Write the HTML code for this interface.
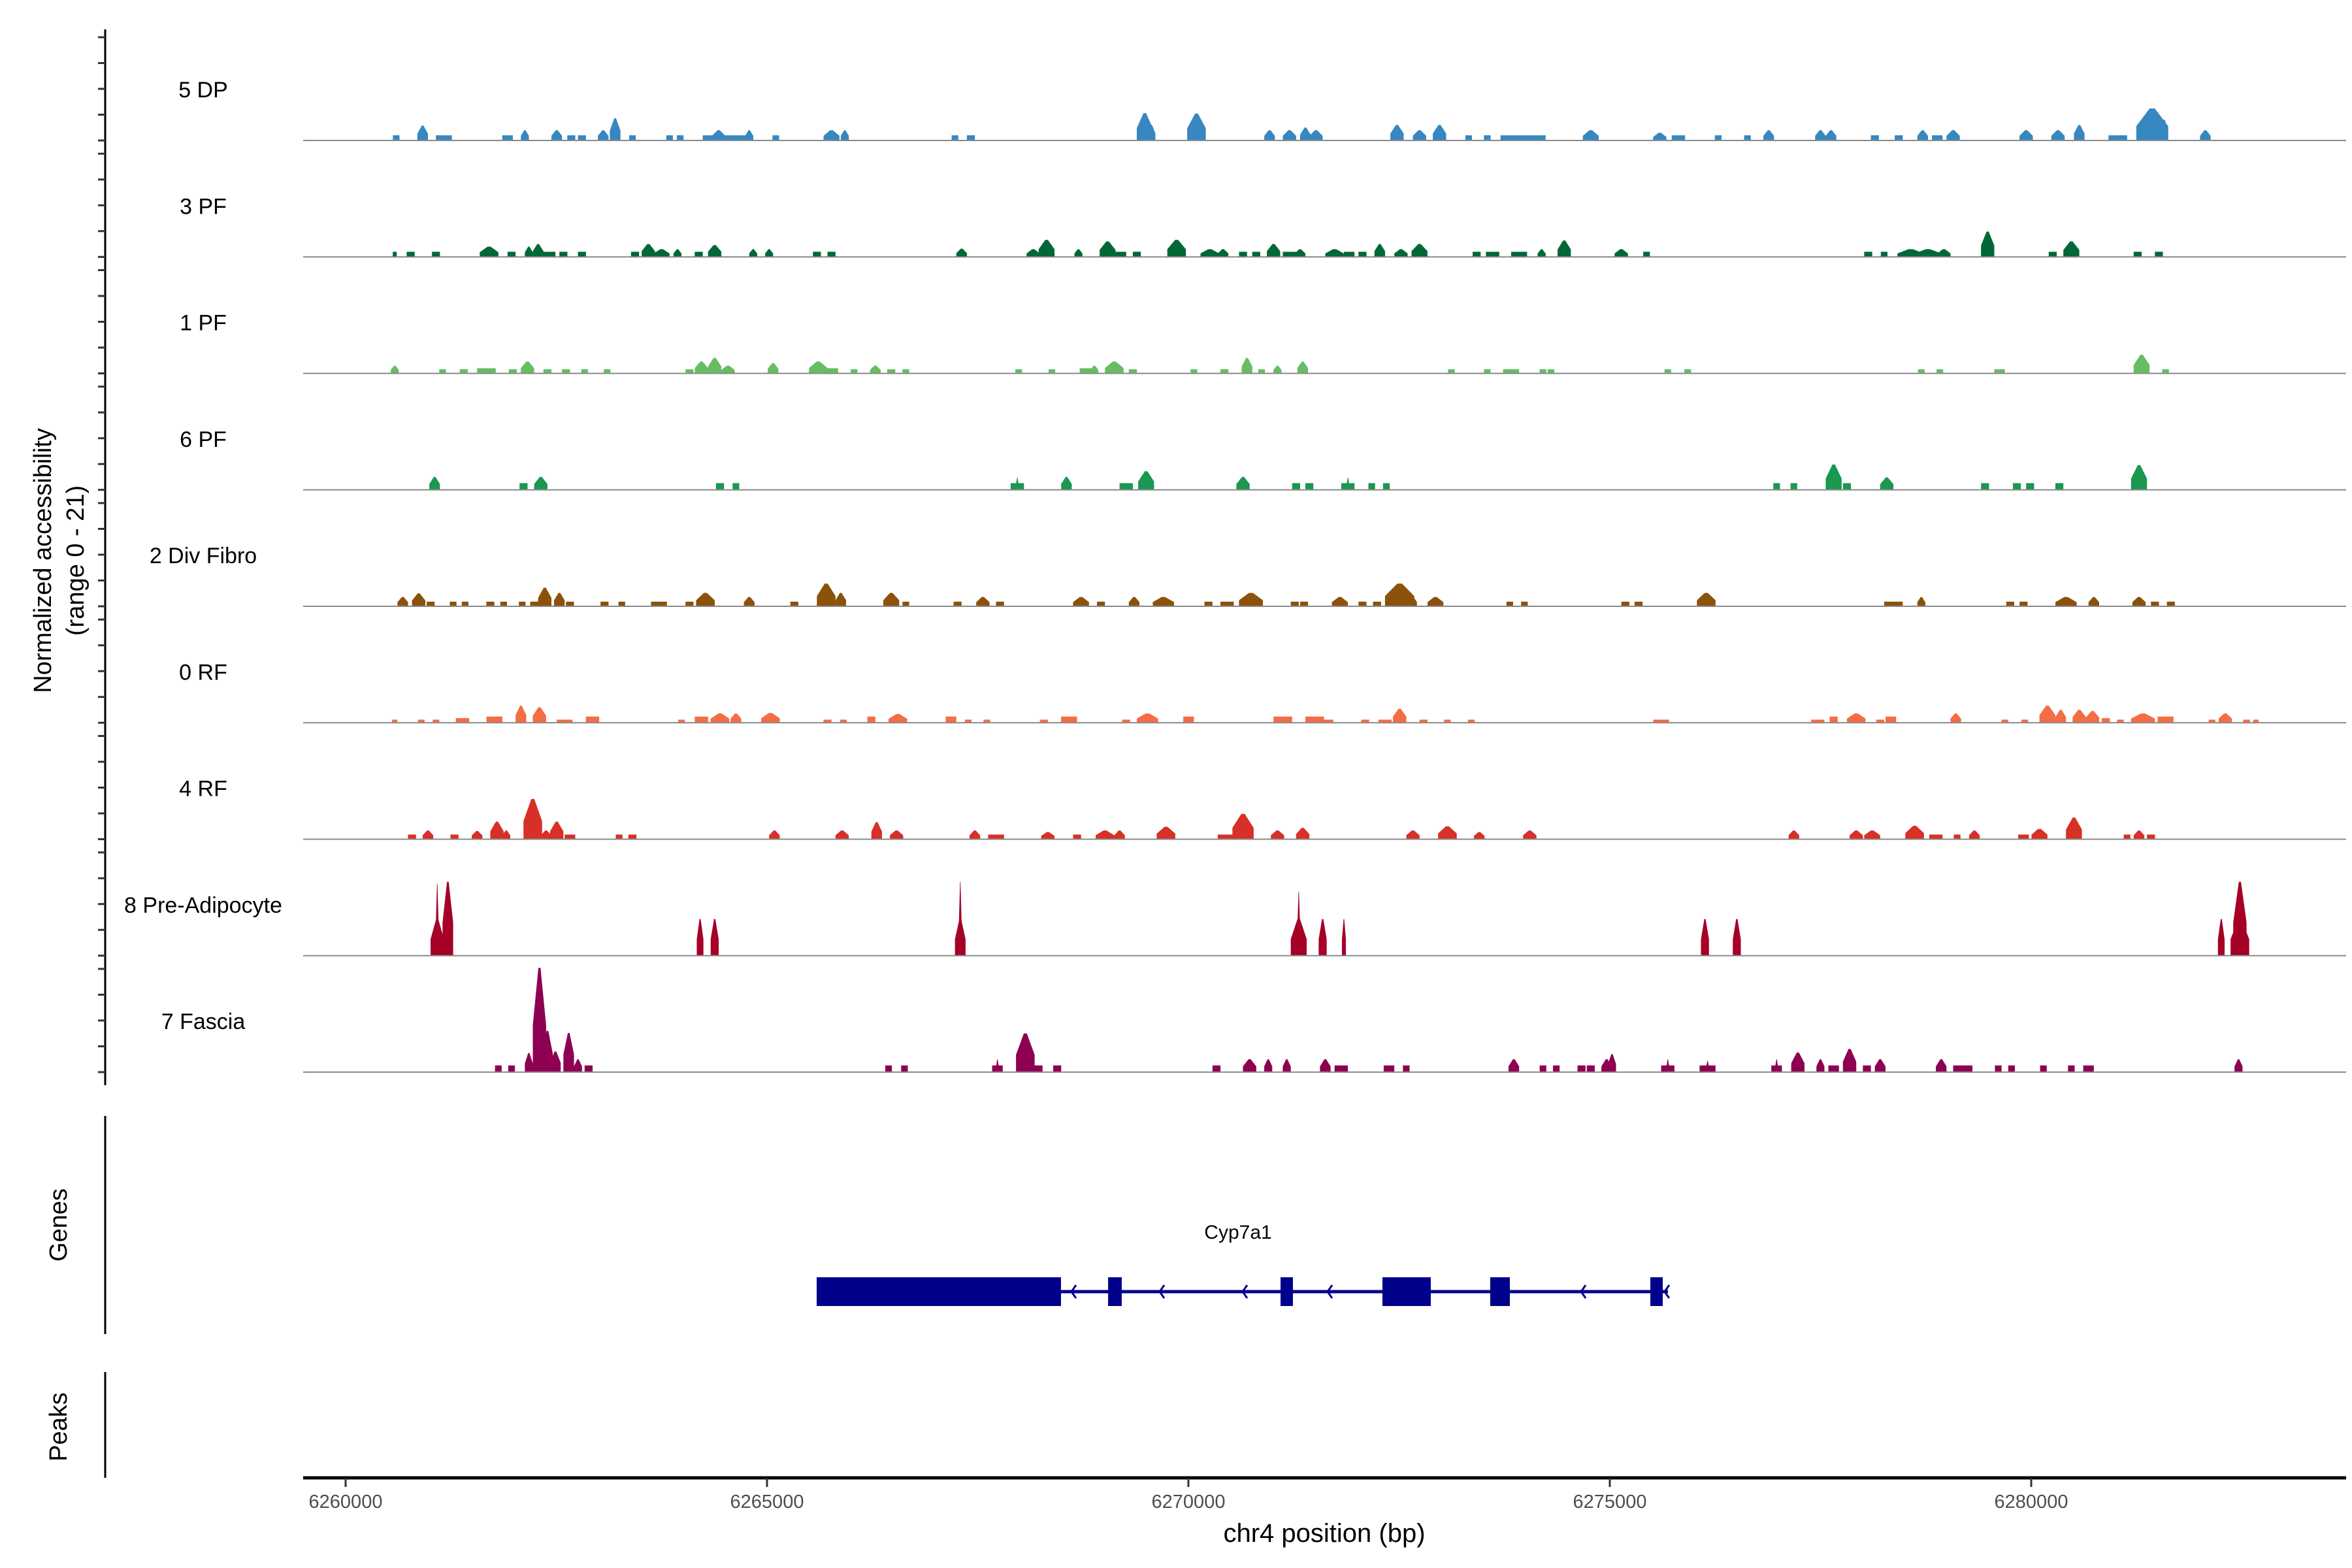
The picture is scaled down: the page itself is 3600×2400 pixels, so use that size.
<!DOCTYPE html>
<html><head><meta charset="utf-8"><style>
html,body{margin:0;padding:0;background:#fff;}
svg{display:block;font-family:"Liberation Sans",Arial,sans-serif;}
</style></head><body>
<svg id="chart" width="3600" height="2400" viewBox="0 0 3600 2400" xmlns="http://www.w3.org/2000/svg">
<rect width="3600" height="2400" fill="#fff"/>
<g id="tracks"></g>
<g id="yaxis"></g>
<text transform="translate(78,858) rotate(-90)" text-anchor="middle" font-size="38" fill="#000">Normalized accessibility</text>
<text transform="translate(128,858) rotate(-90)" text-anchor="middle" font-size="38" fill="#000">(range 0 - 21)</text>
<line x1="161" y1="1708" x2="161" y2="2042" stroke="#000" stroke-width="3"/>
<text transform="translate(102,1875) rotate(-90)" text-anchor="middle" font-size="38" fill="#000">Genes</text>
<line x1="161" y1="2100" x2="161" y2="2262" stroke="#000" stroke-width="3"/>
<text transform="translate(102,2184) rotate(-90)" text-anchor="middle" font-size="38" fill="#000">Peaks</text>
<g id="gene"></g>
<g id="xaxis"></g>
<text x="2027" y="2360" text-anchor="middle" font-size="40" fill="#000">chr4 position (bp)</text>
</svg>
<script>
// ---- data ----
const trackNames = ["5 DP","3 PF","1 PF","6 PF","2 Div Fibro","0 RF","4 RF","8 Pre-Adipocyte","7 Fascia"];
const trackColors = ["#3787c0","#006837","#66bd63","#1a9850","#8c510a","#f46d43","#d73027","#a50026","#8e0152"];
// peaks: [center bp, width bp, normalized accessibility]
const peaks5DP = [[6260600,79,1],[6260914,126,2.9],[6261166,189,1],[6261922,126,1],[6262127,95,2],[6262505,126,2],[6262678,95,1],[6262804,95,1],[6263056,126,2],[6263198,126,4.3],[6263403,79,1],[6263844,79,1],[6263970,79,1],[6264537,600,1],[6264426,158,2],[6264789,95,2],[6265104,79,1],[6265765,189,2],[6265923,95,2],[6267230,79,1],[6267419,95,1],[6269482,189,5.3],[6269561,95,3],[6270096,221,5.2],[6270963,126,2],[6271199,158,2],[6271388,126,2.5],[6271514,158,2],[6272475,158,3],[6272742,158,2],[6272979,158,3],[6273325,79,1],[6273546,79,1],[6273971,535,1],[6274774,189,2],[6275593,158,1.5],[6275814,158,1],[6276286,79,1],[6276633,79,1],[6276885,126,2],[6277499,126,2],[6277625,126,2],[6278145,95,1],[6278428,95,1],[6278712,126,2],[6278885,126,1],[6279074,158,2],[6279940,158,2],[6280318,158,2],[6280570,126,3],[6280980,126,1],[6281090,95,1],[6281436,378,6.2],[6281578,95,4],[6282066,126,2]];
const peaks3PF = [[6260583,47,1],[6260772,95,1],[6261072,95,1],[6261702,221,2],[6261969,95,1],[6262174,95,2],[6262284,126,2.5],[6262395,189,1],[6262584,95,1],[6262804,95,1],[6263434,95,1],[6263592,158,2.5],[6263749,189,1.5],[6263938,95,1.5],[6264190,95,1],[6264379,158,2.3],[6264836,95,1.5],[6265025,95,1.5],[6265592,95,1],[6265765,95,1],[6267309,126,1.6],[6268159,158,1.5],[6268317,189,3.3],[6268695,95,1.5],[6269041,189,3],[6269199,126,1],[6269388,95,1],[6269860,221,3.3],[6270254,221,1.5],[6270411,126,1.5],[6270648,95,1],[6270805,95,1],[6271010,158,2.5],[6271199,158,1],[6271325,126,1.5],[6271734,221,1.5],[6271908,126,1],[6272065,95,1],[6272270,126,2.5],[6272522,158,1.5],[6272742,189,2.5],[6273420,95,1],[6273609,158,1],[6273924,189,1],[6274191,95,1.5],[6274459,158,3.2],[6275136,158,1.5],[6275436,79,1],[6278066,95,1],[6278255,79,1],[6278570,315,1.5],[6278775,315,1.5],[6278964,158,1.5],[6279483,158,4.9],[6280255,95,1],[6280476,189,3],[6281263,95,1],[6281515,95,1]];
const peaks1PF = [[6260583,95,1.5],[6261150,79,0.8],[6261402,95,0.8],[6261670,221,1],[6261985,95,0.8],[6262158,158,2.3],[6262395,95,0.8],[6262615,95,0.8],[6262836,79,0.8],[6263103,79,0.8],[6264080,95,0.8],[6264222,158,2.3],[6264379,158,3],[6264537,158,1.5],[6265072,126,2],[6265608,221,2.3],[6265765,158,1],[6266033,79,0.8],[6266285,126,1.5],[6266474,95,0.8],[6266647,79,0.8],[6267986,79,0.8],[6268380,79,0.8],[6268789,158,1],[6268884,95,1.5],[6269120,221,2.3],[6269340,95,0.8],[6270065,79,0.8],[6270427,95,0.8],[6270695,126,3],[6270868,79,0.8],[6271057,95,1.5],[6271356,126,2.3],[6273120,79,0.8],[6273546,79,0.8],[6273829,189,0.8],[6274207,79,0.8],[6274302,79,0.8],[6275688,79,0.8],[6275924,79,0.8],[6278696,79,0.8],[6278916,79,0.8],[6279625,126,0.8],[6281310,189,3.6],[6281594,79,0.8]];
const peaks6PF = [[6261056,126,2.5],[6262111,95,1.3],[6262316,158,2.5],[6264442,95,1.3],[6264631,79,1.3],[6267970,158,1.3],[6267970,32,2.4],[6268553,126,2.5],[6269262,158,1.3],[6269498,189,3.6],[6270648,158,2.5],[6271278,95,1.3],[6271435,95,1.3],[6271892,158,1.3],[6271892,32,2.4],[6272175,79,1.3],[6272349,79,1.3],[6276979,79,1.3],[6277184,79,1.3],[6277656,189,4.9],[6277814,95,1.3],[6278286,158,2.4],[6279452,95,1.3],[6279830,95,1.3],[6279987,95,1.3],[6280334,95,1.3],[6281279,189,4.8]];
const peaks2DF = [[6260678,126,1.8],[6260867,158,2.5],[6261009,95,0.9],[6261276,79,0.9],[6261418,79,0.9],[6261717,95,0.9],[6261875,79,0.9],[6262095,79,0.9],[6262269,158,0.9],[6262363,158,3.6],[6262536,126,2.6],[6262662,95,0.9],[6263072,95,0.9],[6263277,79,0.9],[6263718,189,0.9],[6264080,95,0.9],[6264269,221,2.6],[6264789,126,1.8],[6265324,95,0.9],[6265702,221,4.4],[6265875,126,2.6],[6266474,189,2.6],[6266647,79,0.9],[6267261,95,0.9],[6267561,158,1.8],[6267765,95,0.9],[6268726,189,1.8],[6268962,95,0.9],[6269356,126,1.8],[6269703,252,1.8],[6270238,95,0.9],[6270459,158,0.9],[6270742,284,2.6],[6271262,95,0.9],[6271372,95,0.9],[6271797,189,1.8],[6272065,95,0.9],[6272238,95,0.9],[6272506,347,4.4],[6272664,95,1.8],[6272931,189,1.8],[6273813,79,0.9],[6273987,79,0.9],[6275184,95,0.9],[6275341,95,0.9],[6276144,221,2.6],[6278365,221,0.9],[6278696,95,1.8],[6279751,95,0.9],[6279909,95,0.9],[6280413,252,1.8],[6280743,126,1.8],[6281279,158,1.8],[6281468,95,0.9],[6281657,95,0.9]];
const peaks0RF = [[6260583,63,0.6],[6260898,79,0.6],[6261072,79,0.6],[6261387,158,0.9],[6261765,189,1.2],[6262080,126,3.3],[6262300,158,3],[6262599,189,0.6],[6262930,158,1.2],[6263985,79,0.6],[6264222,158,1.2],[6264442,221,1.8],[6264631,126,1.8],[6265041,221,1.9],[6265718,95,0.6],[6265907,79,0.6],[6266238,95,1.2],[6266553,221,1.7],[6267183,126,1.2],[6267387,79,0.6],[6267608,79,0.6],[6268285,95,0.6],[6268584,189,1.2],[6269262,95,0.6],[6269514,252,1.8],[6270002,126,1.2],[6271120,221,1.2],[6271498,221,1.2],[6271656,126,0.6],[6272097,95,0.6],[6272333,158,0.6],[6272506,158,2.7],[6272790,95,0.6],[6273073,79,0.6],[6273357,79,0.6],[6275609,189,0.6],[6277467,158,0.6],[6277656,95,1.2],[6277924,221,1.8],[6278208,95,0.6],[6278334,126,1.2],[6279105,126,1.8],[6279688,79,0.6],[6279924,79,0.6],[6280192,189,3.3],[6280350,126,2.5],[6280570,158,2.5],[6280728,158,2.3],[6280885,95,0.9],[6281058,79,0.6],[6281326,284,1.8],[6281594,189,1.2],[6282145,79,0.6],[6282303,158,1.8],[6282555,79,0.6],[6282665,63,0.6]];
const peaks4RF = [[6260788,95,0.9],[6260977,126,1.7],[6261292,95,0.9],[6261560,126,1.6],[6261796,158,3.4],[6261906,95,1.7],[6262221,221,7.8],[6262379,126,1.7],[6262505,158,3.4],[6262662,126,0.9],[6263245,79,0.9],[6263403,95,0.9],[6265088,126,1.7],[6265891,158,1.7],[6266301,126,3.3],[6266537,158,1.7],[6267466,126,1.7],[6267718,189,0.9],[6268332,158,1.4],[6268679,95,0.9],[6269010,221,1.7],[6269183,126,1.7],[6269734,221,2.4],[6270443,189,0.9],[6270648,252,4.9],[6271057,158,1.7],[6271356,158,2.2],[6272664,158,1.7],[6273073,221,2.5],[6273451,126,1.4],[6274050,158,1.7],[6277184,126,1.7],[6277924,158,1.7],[6278113,189,1.7],[6278617,221,2.6],[6278869,158,0.9],[6279121,79,0.9],[6279326,126,1.7],[6279909,126,0.9],[6280098,189,2],[6280507,189,4.2],[6281137,79,0.9],[6281279,126,1.7],[6281421,95,0.9]];
const peaks8PA = [[6261087,158,7.1],[6261087,32,14],[6261213,126,14.3],[6264206,79,7.1],[6264379,95,7.1],[6267293,126,7.1],[6267293,32,14.3],[6271309,189,7.1],[6271309,32,12.4],[6271593,95,7.1],[6271845,47,7.1],[6276129,95,7.1],[6276507,95,7.1],[6282255,79,7.1],[6282476,221,7.1],[6282476,158,14.3]];
const peaks7F = [[6261812,79,1.3],[6261969,79,1.3],[6262174,95,3.7],[6262300,158,20.2],[6262395,126,8],[6262489,126,4],[6262647,126,7.6],[6262757,95,2.5],[6262883,95,1.3],[6266442,79,1.3],[6266631,79,1.3],[6267734,126,1.3],[6267734,32,2.5],[6268065,221,7.5],[6268222,95,1.3],[6268443,95,1.3],[6270333,95,1.3],[6270726,158,2.5],[6270947,95,2.5],[6271167,95,2.5],[6271624,126,2.5],[6271813,158,1.3],[6272380,126,1.3],[6272585,79,1.3],[6273861,126,2.5],[6274207,79,1.3],[6274365,79,1.3],[6274664,95,1.3],[6274774,95,1.3],[6274963,126,2.5],[6275026,95,3.5],[6275688,158,1.3],[6275688,32,2.5],[6276160,189,1.3],[6276160,32,2.2],[6276979,126,1.3],[6276979,32,2.5],[6277231,158,3.8],[6277499,95,2.5],[6277656,126,1.3],[6277845,158,4.5],[6278050,95,1.3],[6278208,126,2.5],[6278932,126,2.5],[6279153,158,1.3],[6279263,79,1.3],[6279609,79,1.3],[6279767,79,1.3],[6280145,79,1.3],[6280476,79,1.3],[6280680,126,1.3],[6282460,95,2.5]];
const allPeaks = [peaks5DP,peaks3PF,peaks1PF,peaks6PF,peaks2DF,peaks0RF,peaks4RF,peaks8PA,peaks7F];
const xTicks = [6260000,6265000,6270000,6275000,6280000];
const yTickValues = [0,5,10,15,20];
const geneName = "Cyp7a1";
const exonStarts = [6265589,6269047,6271093,6272302,6273581,6275481];
const exonEnds =   [6268488,6269209,6271240,6272876,6273814,6275628];
const strandArrows = [6268612,6269659,6270643,6271651,6274659,6275650];

// ---- scales ----
const NS="http://www.w3.org/2000/svg";
const X0=464, X1=3591;
function xs(bp){return 529 + (bp-6260000)*0.129;}
const baseY0=215, trackStep=178.25, unitPx=7.9;
function base(i){return baseY0 + i*trackStep;}
function ys(i,v){return base(i) - v*unitPx;}
function mk(tag,attrs,parent){const e=document.createElementNS(NS,tag);for(const k in attrs)e.setAttribute(k,attrs[k]);parent.appendChild(e);return e;}

const tracks=document.getElementById('tracks');
const yaxis=document.getElementById('yaxis');
mk('line',{x1:161,y1:45,x2:161,y2:1661,stroke:'#000','stroke-width':3},yaxis);
trackNames.forEach((name,i)=>{
  const g=mk('g',{},tracks);
  
  
  const lbl=mk('text',{x:311,y:base(i)-66,'text-anchor':'middle','font-size':34,fill:'#000'},g);
  lbl.textContent=name;
  
  
  allPeaks[i].forEach(p=>{
    const c=p[0],w=p[1],h=p[2];
    const xl=xs(c-w/2), xr=xs(c+w/2);
    const b=base(i), t=ys(i,h);
    let pts;
    if(h<=1.3){
      pts=`${xl},${b} ${xl},${t} ${xr},${t} ${xr},${b}`;
    } else {
      const m=ys(i,h*0.45);
      const tl=xs(c-w*0.08), tr=xs(c+w*0.08);
      pts=`${xl},${b} ${xl},${m} ${tl},${t} ${tr},${t} ${xr},${m} ${xr},${b}`;
    }
    const poly=mk('polygon',{points:pts,fill:trackColors[i]},g);
    
    
  });
  const bl=mk('line',{x1:X0,y1:base(i),x2:X1,y2:base(i),stroke:'#8a8a8a','stroke-width':2},g);
  
  
  yTickValues.forEach(v=>{
    const t=mk('line',{x1:150,y1:ys(i,v),x2:161,y2:ys(i,v),stroke:'#333','stroke-width':3},yaxis);
    
    
  });
});

// gene
const gene=document.getElementById('gene');
const gy=1977;
const gl=mk('line',{x1:xs(exonStarts[0]),y1:gy,x2:xs(exonEnds[exonEnds.length-1])+8,y2:gy,stroke:'#00008b','stroke-width':5},gene);


exonStarts.forEach((s,k)=>{
  const r=mk('rect',{x:xs(s),y:1955,width:xs(exonEnds[k])-xs(s),height:44,fill:'#00008b'},gene);
  
  
});
strandArrows.forEach(a=>{
  const x=xs(a);
  const pl=mk('polyline',{points:`${x+7},${gy-10} ${x},${gy} ${x+7},${gy+10}`,fill:'none',stroke:'#00008b','stroke-width':3},gene);
  
  
});
const gt=mk('text',{x:1895,y:1896,'text-anchor':'middle','font-size':30,fill:'#000'},gene);
gt.textContent=geneName;



// x axis
const xaxis=document.getElementById('xaxis');
const AY=2262;
mk('line',{x1:X0,y1:AY,x2:X1,y2:AY,stroke:'#000','stroke-width':5},xaxis);
xTicks.forEach(v=>{
  const t=mk('line',{x1:xs(v),y1:AY,x2:xs(v),y2:AY+14,stroke:'#333','stroke-width':3},xaxis);
  
  
  const l=mk('text',{x:xs(v),y:AY+46,'text-anchor':'middle','font-size':29,fill:'#4d4d4d'},xaxis);
  l.textContent=String(v);
  
  
});
</script>
</body></html>
